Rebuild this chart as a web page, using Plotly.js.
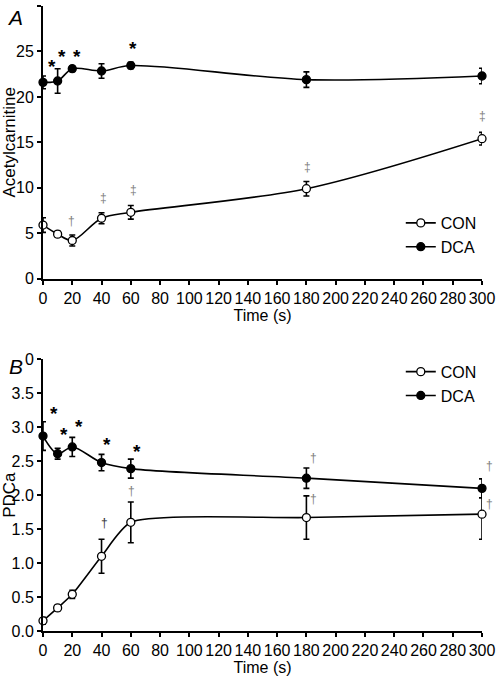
<!DOCTYPE html>
<html><head><meta charset="utf-8">
<script src="https://cdn.plot.ly/plotly-3.0.1.min.js"></script>
<style>html,body{margin:0;padding:0;background:#fff}#c{width:496px;height:678px}</style>
</head><body><div id="c"></div>
<script>
const time = [0, 10, 20, 40, 60, 180, 300];
const acConMean = [5.9, 4.9, 4.2, 6.65, 7.3, 9.9, 15.4];
const acConErr  = [0.8, 0.3, 0.6, 0.6, 0.75, 0.8, 0.7];
const acDcaMean = [21.6, 21.75, 23.1, 22.85, 23.45, 21.9, 22.3];
const acDcaErr  = [0.7, 1.35, 0.3, 0.8, 0.35, 0.85, 0.85];
const pdcConMean = [0.15, 0.34, 0.54, 1.10, 1.60, 1.67, 1.72];
const pdcConErr  = [0.05, 0.04, 0.06, 0.25, 0.30, 0.32, 0.37];
const pdcDcaMean = [2.87, 2.61, 2.71, 2.48, 2.39, 2.25, 2.10];
const pdcDcaErr  = [0.21, 0.08, 0.14, 0.12, 0.14, 0.15, 0.14];

const xTicks = [0,20,40,60,80,100,120,140,160,180,200,220,240,260,280,300];
const acTicks = [0,5,10,15,20,25,30];
const pdcTicks = [0,0.5,1.0,1.5,2.0,2.5,3.0,3.5,4.0];
const pdcTickText = ['0.0','0.5','1.0','1.5','2.0','2.5','3.0','3.5','0'];

// significance markers
const acStarX = [6.4, 13.2, 23.5, 61.6];
const acStarY = [23.9, 25.0, 25.0, 25.85];
const acDagX = [19.4, 41.2, 61.6, 180.9, 300];
const acDagY = [6.3, 8.86, 9.8, 12.3, 17.9];
const acDagT = ['†', '‡', '‡', '‡', '‡'];
const pdcStarX = [7.5, 14.4, 24.4, 43.5, 64.0];
const pdcStarY = [3.27, 2.97, 3.09, 2.82, 2.72];
const pdcDagX = [60.8, 42.2, 184.6, 300, 184.6, 300];
const pdcDagY = [2.06, 1.595, 2.54, 2.43, 1.94, 1.87];

const FONT = 'Liberation Sans, Arial, sans-serif';
const NARROW = 'Liberation Sans Narrow, Arial Narrow, Liberation Sans, Arial, sans-serif';

function series(x, y, e, open, xa, ya, name, legend, sm) {
  return {
    x: x, y: y, type: 'scatter', mode: 'lines+markers', name: name,
    xaxis: xa, yaxis: ya, legend: legend, cliponaxis: false,
    line: {color: '#000', width: 1.6, shape: 'spline', smoothing: sm},
    marker: {size: 8, color: open ? '#fff' : '#000', line: {color: '#000', width: 1.3}},
    error_y: {type: 'data', array: e, visible: true, color: '#000', thickness: 1.6, width: 3}
  };
}

const data = [
  series(time, acConMean, acConErr, true, 'x', 'y', 'CON', 'legend', 0.9),
  series(time, acDcaMean, acDcaErr, false, 'x', 'y', 'DCA', 'legend', 0.9),
  series(time, pdcConMean, pdcConErr, true, 'x2', 'y2', 'CON', 'legend2', 0.6),
  series(time, pdcDcaMean, pdcDcaErr, false, 'x2', 'y2', 'DCA', 'legend2', 0.9)
];

const ann = [];
acStarX.forEach((x, i) => ann.push({x: x, y: acStarY[i], xref: 'x', yref: 'y', text: '<b>*</b>', showarrow: false, yshift: -5, font: {size: 19, color: '#000', family: FONT}}));
acDagX.forEach((x, i) => ann.push({x: x, y: acDagY[i], xref: 'x', yref: 'y', text: acDagT[i], showarrow: false, font: {size: 12, color: '#808080', family: FONT}}));
pdcStarX.forEach((x, i) => ann.push({x: x, y: pdcStarY[i], xref: 'x2', yref: 'y2', text: '<b>*</b>', showarrow: false, yshift: -5, font: {size: 19, color: '#000', family: FONT}}));
pdcDagX.forEach((x, i) => ann.push({x: x, y: pdcDagY[i], xref: 'x2', yref: 'y2', text: '†', showarrow: false, xshift: pdcDagX[i] === 300 ? 7 : 0, font: {size: 12, color: i === 1 ? '#333' : '#808080', family: FONT}}));
ann.push({x: 0, y: 1, xref: 'paper', yref: 'paper', xanchor: 'right', yanchor: 'top', xshift: -18, yshift: 2, text: '<i>A</i>', showarrow: false, font: {size: 21, color: '#000', family: FONT}});
ann.push({x: 0, y: 0.4347, xref: 'paper', yref: 'paper', xanchor: 'right', yanchor: 'top', xshift: -18, yshift: 6, text: '<i>B</i>', showarrow: false, font: {size: 21, color: '#000', family: FONT}});

function xaxis(anchor) {
  return {
    domain: [0, 1], anchor: anchor, range: [0, 300], tickvals: xTicks, ticks: 'outside',
    ticklen: 4, tickwidth: 2, tickcolor: '#000', showline: true, linewidth: 2, linecolor: '#000',
    showgrid: false, zeroline: false, tickfont: {size: 16, color: '#000', family: NARROW},
    title: {text: 'Time (s)', font: {size: 16, color: '#000', family: FONT}, standoff: 1}
  };
}
function yaxis(anchor, domain, range, tv, tt, title) {
  const a = {
    domain: domain, anchor: anchor, range: range, tickvals: tv, ticks: 'outside',
    ticklen: 4, tickwidth: 2, tickcolor: '#000', showline: true, linewidth: 2, linecolor: '#000',
    showgrid: false, zeroline: false, tickfont: {size: 16, color: '#000', family: FONT},
    title: {text: title, font: {size: 17, color: '#000', family: FONT}, standoff: 2}
  };
  if (tt) a.ticktext = tt;
  return a;
}

const layout = {
  width: 496, height: 678,
  margin: {l: 43, r: 14, t: 6, b: 47},
  paper_bgcolor: '#fff', plot_bgcolor: '#fff',
  font: {family: FONT, color: '#000'},
  xaxis: xaxis('y'),
  yaxis: yaxis('x', [0.5637, 1], [0, 30], acTicks, null, 'Acetylcarnitine'),
  xaxis2: xaxis('y2'),
  yaxis2: yaxis('x2', [0, 0.4347], [0, 4], pdcTicks, pdcTickText, 'PDCa'),
  legend: {x: 0.815, y: 0.68, xanchor: 'left', yanchor: 'top', bgcolor: 'rgba(0,0,0,0)', font: {size: 16, color: '#000', family: FONT}, itemwidth: 30, tracegroupgap: 0},
  legend2: {x: 0.815, y: 0.442, xanchor: 'left', yanchor: 'top', bgcolor: 'rgba(0,0,0,0)', font: {size: 16, color: '#000', family: FONT}, itemwidth: 30, tracegroupgap: 0},
  showlegend: true,
  annotations: ann
};

Plotly.newPlot('c', data, layout, {staticPlot: true, displayModeBar: false});
</script>
</body></html>
